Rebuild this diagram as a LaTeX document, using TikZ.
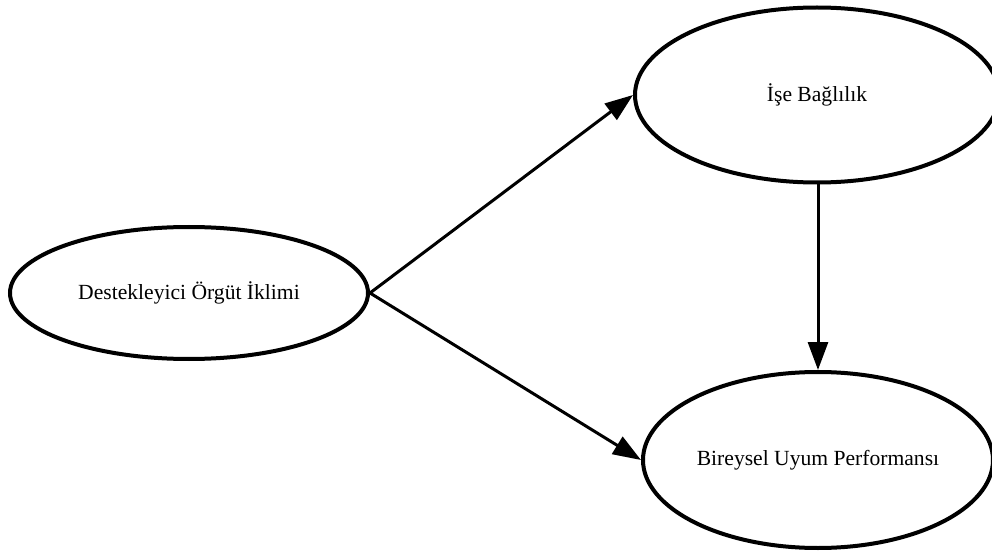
\documentclass[tikz,border=0pt]{standalone}
\usepackage{fontspec}
\setmainfont{Liberation Serif}
\usetikzlibrary{shapes.geometric,arrows.meta}

\tikzset{
  construct/.style={ellipse,draw,line width=2pt,inner sep=0pt,
    font=\fontsize{10.8}{13}\selectfont},
  effect/.style={line width=1.5pt,-{Triangle[length=14pt,width=10pt]}}
}

\begin{document}
\begin{tikzpicture}[x=0.5pt,y=-0.5pt]
\useasboundingbox (0,0) rectangle (992,551);
\node[construct,minimum width=179pt,minimum height=66pt] (climate) at (189,293) {Destekleyici Örgüt İklimi};
\node[construct,minimum width=182pt,minimum height=87.5pt] (engagement) at (817,95) {İşe Bağlılık};
\node[construct,minimum width=175pt,minimum height=88pt] (performance) at (818,460) {Bireysel Uyum Performansı};
\draw[effect] (climate.east) -- (engagement.west);
\draw[effect] (climate.east) -- (performance.west);
\draw[effect] (engagement.south -| performance.north) -- (performance.north);
\end{tikzpicture}
\end{document}
